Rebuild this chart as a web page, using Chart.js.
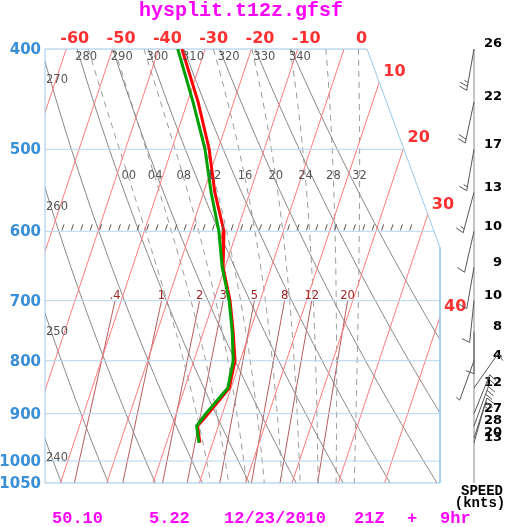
<!DOCTYPE html>
<html>
<head>
<meta charset="utf-8">
<script src="https://cdn.jsdelivr.net/npm/chart.js@4.4.0/dist/chart.umd.min.js"></script>
<style>
  html, body { margin: 0; padding: 0; background: #fff; }
</style>
</head>
<body>
<canvas id="skewt" width="505" height="527"></canvas>
<script>
// sounding (hPa, deg C)
const LEVELS   = [400, 450, 500, 550, 600, 650, 700, 750, 800, 850, 900, 925, 960]
const TEMP     = [-35.0, -27.7, -21.9, -17.6, -12.8, -10.4, -6.5, -3.6, -1.1, -0.4, -3.1, -4.5, -2.8]
const DEWPOINT = [-35.9, -28.8, -22.8, -18.4, -13.9, -10.6, -6.7, -3.8, -1.5, -0.7, -3.6, -4.7, -3.0]

// winds (hPa, knots, degrees from)
const WIND_LEVELS = [400, 450, 500, 550, 600, 650, 700, 750, 800, 850, 900, 925, 950, 960]
const WIND_SPEED  = [26, 22, 17, 13, 10, 9, 10, 8, 4, 12, 27, 28, 20, 13]
const WIND_DIR    = [190, 192, 190, 195, 193, 190, 186, 180, 200, 35, 22, 20, 18, 16]

// background lines
const PRESSURE_TICKS = [400, 500, 600, 700, 800, 900, 1000, 1050]
const ISOBARS        = [500, 600, 700, 800, 900, 1000]
const ISOTHERMS      = [-60, -50, -40, -30, -20, -10, 0, 10, 20, 30, 40]
const DRY_ADIABATS   = [240, 250, 260, 270, 280, 290, 300, 310, 320, 330, 340]
const MOIST_ADIABATS = [0, 4, 8, 12, 16, 20, 24, 28, 32]
const MIXING_RATIOS  = [0.4, 1, 2, 3, 5, 8, 12, 20]
const MIXING_LABELS  = ['.4', '1', '2', '3', '5', '8', '12', '20']

const TITLE  = 'hysplit.t12z.gfsf'
const FOOTER = ['50.10', '5.22', '12/23/2010', '21Z', '+', '9hr']

// diagram geometry
const P_TOP = 400, P_BOT = 1050
const SKEW = 32.37
const X_MIN = -64.58, X_MAX = 20.73
const FRAME_TOP_X = 4.97, FRAME_CORNER_P = 622
const MIXING_TOP_P = 700
const MOIST_LABEL_P = 533
const HATCH_P = 600

const skewX = (t, p) => t - SKEW * Math.log(p / P_TOP)
const frameX = p => p <= FRAME_CORNER_P
  ? FRAME_TOP_X + (X_MAX - FRAME_TOP_X) * Math.log(p / P_TOP) / Math.log(FRAME_CORNER_P / P_TOP)
  : X_MAX
const FRAME = [
  { x: X_MIN, y: P_TOP }, { x: FRAME_TOP_X, y: P_TOP }, { x: X_MAX, y: FRAME_CORNER_P },
  { x: X_MAX, y: P_BOT }, { x: X_MIN, y: P_BOT }, { x: X_MIN, y: P_TOP },
]

// thermo
const Rd = 287.04, Cp = 1005.7, Lv = 2.501e6, EPS = 0.622
const satVap = tc => 6.112 * Math.exp(17.67 * tc / (tc + 243.5))
const dryT = (theta, p) => theta * Math.pow(p / 1000, 0.2857) - 273.15
function mixingT(w, p) {
  const e = w * p / (622 + w)
  const l = Math.log(e / 6.112)
  return 243.5 * l / (17.67 - l)
}
function moistSlope(tk, p) {
  const e = satVap(tk - 273.15)
  const rs = EPS * e / (p - e)
  return (Rd * tk + Lv * rs) / (p * (Cp + Lv * Lv * rs * EPS / (Rd * tk * tk)))
}
function moistAdiabat(thw) {
  const pts = {}
  const run = (h, pEnd) => {
    let t = thw + 273.15
    for (let p = 1000; h < 0 ? p >= pEnd : p <= pEnd; p += h) {
      pts[p] = t - 273.15
      const k1 = moistSlope(t, p)
      const k2 = moistSlope(t + h / 2 * k1, p + h / 2)
      const k3 = moistSlope(t + h / 2 * k2, p + h / 2)
      const k4 = moistSlope(t + h * k3, p + h)
      t += h / 6 * (k1 + 2 * k2 + 2 * k3 + k4)
    }
  }
  run(-1, P_TOP)
  run(1, P_BOT)
  return pts
}
function bisect(f, lo, hi) {
  let flo = f(lo)
  for (let i = 0; i < 60; i++) {
    const mid = (lo + hi) / 2, fm = f(mid)
    if ((fm > 0) === (flo > 0)) { lo = mid; flo = fm } else hi = mid
  }
  return (lo + hi) / 2
}
const range = (a, b, step) => { const out = []; for (let v = a; v <= b + 1e-9; v += step) out.push(v); return out }

const line = (data, color, extra = {}) => ({
  data, showLine: true, borderColor: color, borderWidth: 1, pointRadius: 0, clipFrame: true, ...extra,
})

const moist = MOIST_ADIABATS.map(moistAdiabat)

const datasets = [
  line(LEVELS.map((p, i) => ({ x: skewX(DEWPOINT[i], p), y: p })), '#00a000', { borderWidth: 3, clipFrame: false }),
  line(LEVELS.map((p, i) => ({ x: skewX(TEMP[i], p), y: p })), '#ff0000', { borderWidth: 3, clipFrame: false }),
  line(FRAME, '#9cc8e8', { clip: false, clipFrame: false }),
  ...ISOBARS.map(p => line([{ x: X_MIN, y: p }, { x: X_MAX, y: p }], '#b4d6ee')),
  ...ISOTHERMS.map(t => line([P_TOP, P_BOT].map(p => ({ x: skewX(t, p), y: p })), '#ff7a7a')),
  ...DRY_ADIABATS.map(th => line(range(P_TOP, P_BOT, 10).map(p => ({ x: skewX(dryT(th, p), p), y: p })), '#8c8585')),
  ...moist.map(m => line(range(P_TOP, P_BOT, 5).map(p => ({ x: skewX(m[p], p), y: p })), '#999999', { borderDash: [6, 5] })),
  ...MIXING_RATIOS.map(w => line(range(MIXING_TOP_P, P_BOT, 25).map(p => ({ x: skewX(mixingT(w, p), p), y: p })), '#b85a5a')),
]

const skewClip = {
  id: 'skewClip',
  beforeDatasetDraw(chart, args) {
    if (!chart.data.datasets[args.index].clipFrame) return
    const { ctx, scales: { x, y } } = chart
    ctx.save()
    ctx.beginPath()
    FRAME.forEach((pt, i) => {
      const px = x.getPixelForValue(pt.x), py = y.getPixelForValue(pt.y)
      i ? ctx.lineTo(px, py) : ctx.moveTo(px, py)
    })
    ctx.clip()
  },
  afterDatasetDraw(chart, args) {
    if (chart.data.datasets[args.index].clipFrame) chart.ctx.restore()
  },
}

function text(ctx, str, x, y, font, color, align = 'left') {
  ctx.font = font
  ctx.fillStyle = color
  ctx.textAlign = align
  ctx.textBaseline = 'middle'
  ctx.fillText(str, x, y)
}

function drawBarb(ctx, x0, y0, dir, spd) {
  const rad = dir * Math.PI / 180
  const ux = Math.sin(rad), uy = -Math.cos(rad)
  const px = -uy, py = ux
  const L = 42
  ctx.beginPath()
  ctx.moveTo(x0, y0)
  ctx.lineTo(x0 + ux * L, y0 + uy * L)
  let r = Math.round(spd / 5) * 5
  let pos = L
  while (r >= 10) {
    const sx = x0 + ux * pos, sy = y0 + uy * pos
    ctx.moveTo(sx, sy)
    ctx.lineTo(sx + px * 8 - ux * 3, sy + py * 8 - uy * 3)
    pos -= 4
    r -= 10
  }
  if (r >= 5) {
    const sx = x0 + ux * pos, sy = y0 + uy * pos
    ctx.moveTo(sx, sy)
    ctx.lineTo(sx + px * 4 - ux * 1.5, sy + py * 4 - uy * 1.5)
  }
  ctx.stroke()
}

const skewText = {
  id: 'skewText',
  afterDraw(chart) {
    const { ctx, chartArea: area, scales: { x, y } } = chart
    const X = v => x.getPixelForValue(v)
    const Y = v => y.getPixelForValue(v)
    const bold = px => `bold ${px}px "DejaVu Sans"`
    const thin = '11.5px "DejaVu Sans"'
    const mono = px => `bold ${px}px "Liberation Mono"`

    // level hatching
    ctx.save()
    ctx.strokeStyle = '#555'
    ctx.lineWidth = 1
    ctx.beginPath()
    const hy = Y(HATCH_P)
    for (let hx = area.left + 17; hx <= X(frameX(HATCH_P)) - 17; hx += 9.4) {
      ctx.moveTo(hx, hy - 1)
      ctx.lineTo(hx + 2, hy - 7)
    }
    ctx.stroke()
    ctx.restore()

    // pressure labels
    PRESSURE_TICKS.forEach(p => text(ctx, String(p), area.left - 4, Y(p) + 1, bold(15), '#3a8fd6', 'right'))

    // isotherm labels
    ISOTHERMS.forEach(t => {
      if (t < FRAME_TOP_X) {
        text(ctx, String(t), X(skewX(t, P_TOP)) + 23, area.top - 10, bold(16), '#ff3030', 'right')
      } else {
        const p = bisect(q => skewX(t, q) - frameX(q), P_TOP, P_BOT)
        text(ctx, String(t), X(frameX(p)) + 4, Y(p) - 10, bold(16), '#ff3030')
      }
    })

    // dry adiabat labels
    DRY_ADIABATS.forEach(th => {
      const xt = skewX(dryT(th, P_TOP), P_TOP)
      if (xt >= X_MIN) {
        text(ctx, String(th), X(xt) - 2, area.top + 8, thin, '#555')
      } else {
        const p = bisect(q => skewX(dryT(th, q), q) - X_MIN, P_TOP, P_BOT)
        text(ctx, String(th), area.left + 1, Y(p) + 19, thin, '#555')
      }
    })

    // moist adiabat labels
    moist.forEach((m, i) => {
      const lbl = String(MOIST_ADIABATS[i]).padStart(2, '0')
      text(ctx, lbl, X(skewX(m[MOIST_LABEL_P], MOIST_LABEL_P)), Y(MOIST_LABEL_P) - 2, thin, '#555', 'center')
    })

    // mixing ratio labels
    MIXING_RATIOS.forEach((w, i) => {
      text(ctx, MIXING_LABELS[i], X(skewX(mixingT(w, MIXING_TOP_P), MIXING_TOP_P)), Y(MIXING_TOP_P) - 5, thin, '#a02828', 'center')
    })

    // wind barbs
    const wx = area.right + 34
    ctx.save()
    ctx.strokeStyle = '#8a8a8a'
    ctx.lineWidth = 1
    ctx.beginPath()
    ctx.moveTo(wx, Y(P_TOP))
    ctx.lineTo(wx, Y(P_BOT))
    ctx.stroke()
    ctx.strokeStyle = '#555'
    WIND_LEVELS.forEach((p, i) => {
      drawBarb(ctx, wx, Y(p), WIND_DIR[i], WIND_SPEED[i])
      text(ctx, String(WIND_SPEED[i]), 502, Y(p) - 5, bold(13), '#000', 'right')
    })
    ctx.restore()
    text(ctx, 'SPEED', 482, 491, mono(14), '#000', 'center')
    text(ctx, '(knts)', 480, 503, mono(14), '#000', 'center')

    // title and footer
    text(ctx, TITLE, 241, 11, mono(20), '#ff00ff', 'center')
    const footX = [52, 149, 224, 354, 407, 440]
    FOOTER.forEach((s, i) => text(ctx, s, footX[i], 519, mono(17), '#ff00ff'))
  },
}

new Chart(document.getElementById('skewt'), {
  type: 'scatter',
  data: { datasets },
  options: {
    responsive: false,
    animation: false,
    events: [],
    layout: { padding: { left: 45, top: 49, right: 65, bottom: 44 } },
    plugins: { legend: { display: false }, tooltip: { enabled: false } },
    elements: { point: { radius: 0 }, line: { tension: 0 } },
    scales: {
      x: { type: 'linear', min: X_MIN, max: X_MAX, bounds: 'data', display: false },
      y: { type: 'logarithmic', min: P_TOP, max: P_BOT, reverse: true, bounds: 'data', display: false },
    },
  },
  plugins: [skewClip, skewText],
})
</script>
</body>
</html>
